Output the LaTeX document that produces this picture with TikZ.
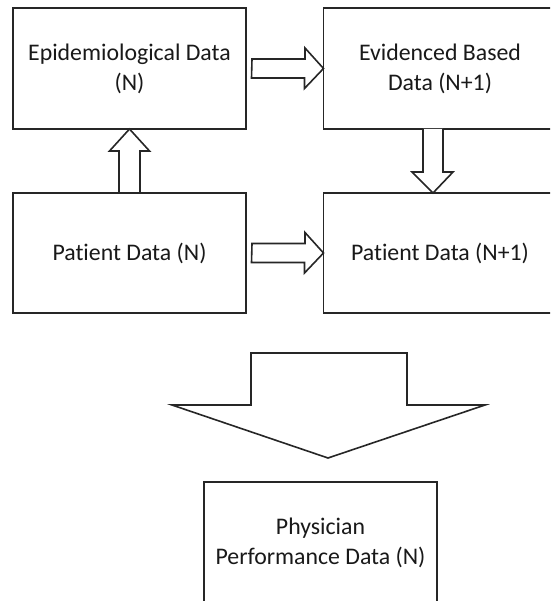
\documentclass[tikz,border=0pt]{standalone}
\usepackage{fontspec}
\setmainfont{Carlito}[Ligatures=NoCommon]
\usetikzlibrary{calc}
\begin{document}
\begin{tikzpicture}[x=1pt,y=-1pt,
  box/.style={draw=black!85, line width=1.6pt, fill=white, minimum width=233pt, minimum height=121pt,
    align=center, font=\fontsize{23.8}{30}\selectfont, text=black!90, inner sep=0pt, outer sep=0pt},
  blk/.style={draw=black!85, line width=1.6pt, fill=white, line join=miter}]
\useasboundingbox (0,0) rectangle (550,601);
\clip (0,0) rectangle (550,601);
\fill[white] (0,0) rectangle (550,601);
\node[box] (e1) at (129.5,68.5) {Epidemiological Data\\(N)};
\node[box] (e2) at (440,68.5) {Evidenced Based\\Data (N+1)};
\node[box, minimum height=120pt] (p1) at (129.5,253) {Patient Data (N)};
\node[box, minimum height=120pt] (p2) at (440,253) {Patient Data (N+1)};
\node[box] (ph) at (320.5,542.5) {Physician\\Performance Data (N)};
% right arrow top
\draw[blk] ($(e1.east)+(6,-9.5)$) -- ++(53,0) -- ++(0,-11) -- (e2.west) -- ++(-19,20) -- ++(0,-10.5) -- ++(-53,0) -- cycle;
% right arrow bottom
\draw[blk] ($(p1.east)+(6,-9.5)$) -- ++(53,0) -- ++(0,-11) -- (p2.west) -- ++(-19,20) -- ++(0,-10.5) -- ++(-53,0) -- cycle;
% up arrow
\draw[blk] ($(p1.north)+(-10.5,0)$) -- ($(e1.south)+(-10.5,22)$) -- ($(e1.south)+(-20,22)$) -- (e1.south)
  -- ($(e1.south)+(20,22)$) -- ($(e1.south)+(10.5,22)$) -- ($(p1.north)+(10.5,0)$) -- cycle;
% down arrow
\draw[blk] ($(e2.south)+(-17,0)$) -- ($(e2.south)+(-17,43)$) -- ($(e2.south)+(-28,43)$) -- ($(p2.north)+(-7,0)$)
  -- ($(e2.south)+(13,43)$) -- ($(e2.south)+(3,43)$) -- ($(e2.south)+(3,0)$);
% big arrow
\draw[blk] ($(ph.north)+(-69.5,-129)$) -- ($(ph.north)+(86.5,-129)$) -- ($(ph.north)+(86.5,-77)$)
  -- ($(ph.north)+(164.5,-77)$) -- ($(ph.north)+(7.5,-24)$) -- ($(ph.north)+(-148.5,-77)$)
  -- ($(ph.north)+(-69.5,-77)$) -- cycle;
\end{tikzpicture}
\end{document}
